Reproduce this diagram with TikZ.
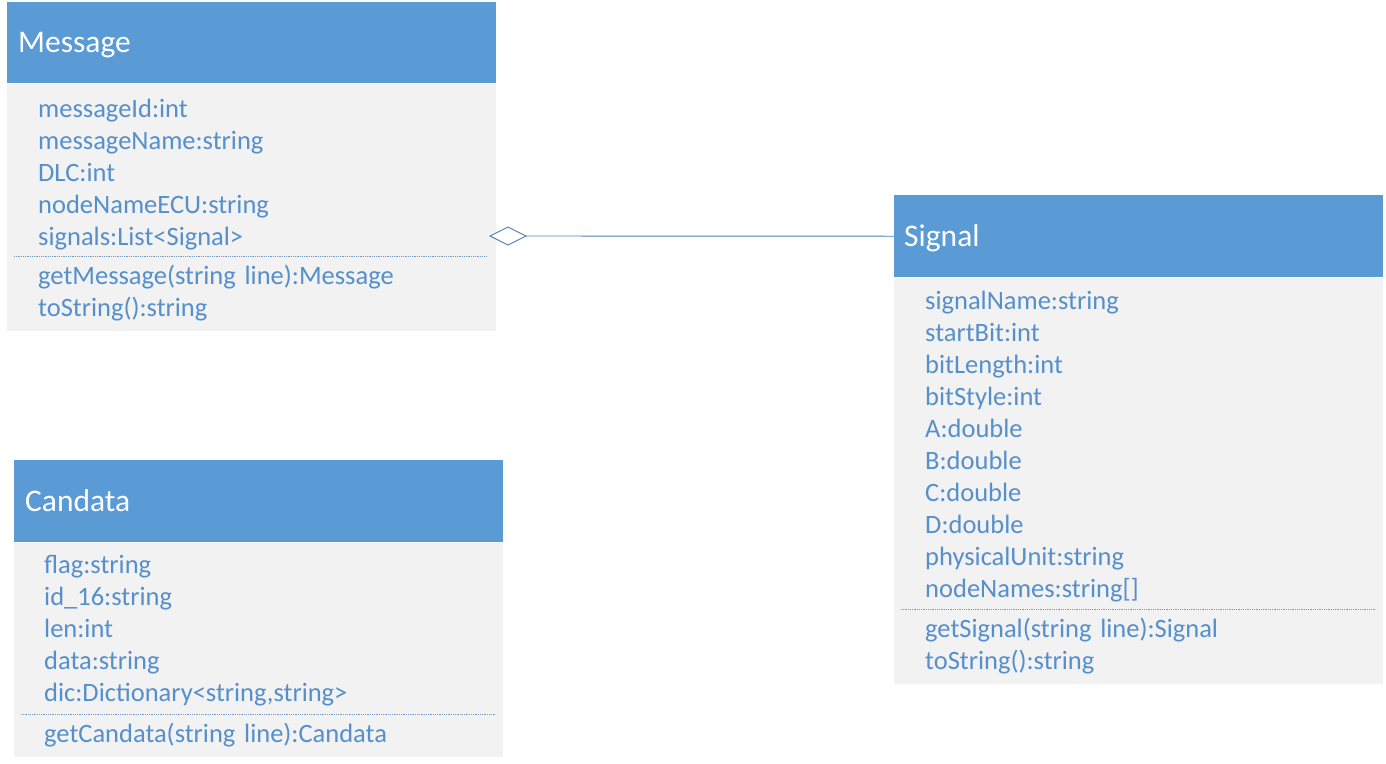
\documentclass[tikz,border=0pt]{standalone}
\usepackage{fontspec}
\setmainfont{Carlito}
\usepackage{tikz}
\usetikzlibrary{arrows.meta}

\definecolor{headblue}{HTML}{5B9BD5}
\definecolor{bodygray}{HTML}{F2F2F2}
\definecolor{textblue}{HTML}{558FCC}
\definecolor{lineblue}{HTML}{4F7FB5}

\begin{document}
\begin{tikzpicture}[x=1pt,y=-1pt,
  head/.style={rectangle,fill=headblue,minimum width=489pt,anchor=north west,inner sep=0},
  body/.style={rectangle,fill=bodygray,minimum width=489pt,anchor=north west,inner sep=0},
  title/.style={anchor=base west,inner sep=0,text=white,font=\fontsize{31.5}{36}\selectfont},
  row/.style={inner sep=0,text width=440pt,align=left,text height=19pt,text depth=6pt,
    text=textblue,font=\fontsize{26.5}{32}\selectfont},
  sep line/.style={draw=lineblue!80,densely dotted,line width=0.8pt},
  aggregation/.style={draw=lineblue,line width=0.9pt,
    -{Diamond[open,fill=white,length=38pt,width=19pt]}}]

  \useasboundingbox (0,0) rectangle (1386,763);

  % Message
  \node[head,minimum height=81pt] (msghead) at (7,2) {};
  \node[body,minimum height=247pt] (msgbody) at (msghead.south west) {};
  \node[title] (msgtitle) at (18,52) {Message};
  \node[row,anchor=west] (msg1) at (38,110.5) {messageId:int};
  \node[row] (msg2) [below of=msg1,node distance=32pt] {messageName:string};
  \node[row] (msg3) [below of=msg2,node distance=32pt] {DLC:int};
  \node[row] (msg4) [below of=msg3,node distance=32pt] {nodeNameECU:string};
  \node[row] (msg5) [below of=msg4,node distance=32pt] {signals:List<Signal>};
  \node[row] (msgop1) [below of=msg5,node distance=39pt] {getMessage(string line):Message};
  \node[row] (msgop2) [below of=msgop1,node distance=32pt] {toString():string};
  \coordinate (msgsepl) at (14,256);
  \coordinate (msgsepr) at (487,256);
  \coordinate (msgagg) at (489,236);

  % Signal
  \node[head,minimum height=82pt] (sighead) at (894,195) {};
  \node[body,minimum height=406pt] (sigbody) at (sighead.south west) {};
  \node[title] (sigtitle) at (904,246) {Signal};
  \node[row,anchor=west] (sig1) at (925,302.5) {signalName:string};
  \node[row] (sig2) [below of=sig1,node distance=32pt] {startBit:int};
  \node[row] (sig3) [below of=sig2,node distance=32pt] {bitLength:int};
  \node[row] (sig4) [below of=sig3,node distance=32pt] {bitStyle:int};
  \node[row] (sig5) [below of=sig4,node distance=32pt] {A:double};
  \node[row] (sig6) [below of=sig5,node distance=32pt] {B:double};
  \node[row] (sig7) [below of=sig6,node distance=32pt] {C:double};
  \node[row] (sig8) [below of=sig7,node distance=32pt] {D:double};
  \node[row] (sig9) [below of=sig8,node distance=32pt] {physicalUnit:string};
  \node[row] (sig10) [below of=sig9,node distance=32pt] {nodeNames:string[]};
  \node[row] (sigop1) [below of=sig10,node distance=40pt] {getSignal(string line):Signal};
  \node[row] (sigop2) [below of=sigop1,node distance=32pt] {toString():string};
  \coordinate (sigsepl) at (901,609);
  \coordinate (sigsepr) at (1375,609);

  % Candata
  \node[head,minimum height=82pt] (canhead) at (14,460) {};
  \node[body,minimum height=214pt] (canbody) at (canhead.south west) {};
  \node[title] (cantitle) at (25,511) {Candata};
  \node[row,anchor=west] (can1) at (44,566.5) {flag:string};
  \node[row] (can2) [below of=can1,node distance=32pt] {id\_16:string};
  \node[row] (can3) [below of=can2,node distance=32pt] {len:int};
  \node[row] (can4) [below of=can3,node distance=32pt] {data:string};
  \node[row] (can5) [below of=can4,node distance=32pt] {dic:Dictionary<string,string>};
  \node[row] (canop1) [below of=can5,node distance=41pt] {getCandata(string line):Candata};
  \coordinate (cansepl) at (21,714);
  \coordinate (cansepr) at (496,714);

  \draw[sep line] (msgsepl) -- (msgsepr);
  \draw[sep line] (sigsepl) -- (sigsepr);
  \draw[sep line] (cansepl) -- (cansepr);

  \draw[aggregation] (sighead.west) -- (msgagg);
\end{tikzpicture}
\end{document}
